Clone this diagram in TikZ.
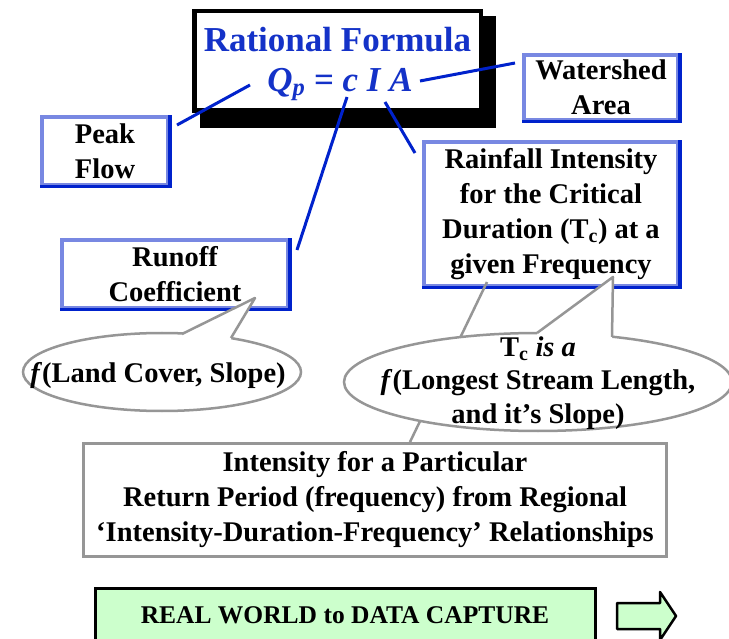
\documentclass[tikz,border=0pt]{standalone}
\usepackage{fontspec}
\setmainfont{Liberation Serif}
\usetikzlibrary{shapes.geometric}
\definecolor{bdark}{RGB}{0,34,204}
\definecolor{blight}{RGB}{120,136,226}
\definecolor{tblue}{RGB}{20,50,200}
\definecolor{bgray}{RGB}{150,150,150}
\definecolor{lgreen}{RGB}{204,255,204}
\newcommand\bodysize{\fontsize{28.5}{35}\selectfont}
\newcommand\bubsize{\fontsize{28.5}{33.5}\selectfont}
\begin{document}
\begin{tikzpicture}[x=1pt,y=-1pt,
  bbox/.style={draw=blight,line width=3.5pt,fill=white,align=center,inner sep=0pt,font=\bfseries\bodysize},
  dk/.style={draw=bdark,line width=3.5pt},
  bconn/.style={draw=bdark,line width=3pt},
  gline/.style={draw=bgray,line width=2.5pt,line join=round},
  bubble/.style={ellipse,draw=bgray,line width=2.5pt,fill=white,inner sep=0pt},
  bubtext/.style={align=center,inner sep=0pt,font=\bfseries\bubsize},
  gbox/.style={draw=bgray,line width=3pt,fill=white,inner sep=0pt,align=center,font=\bfseries\bodysize},
]
\clip (0,0) rectangle (729,639);
\fill[white] (0,0) rectangle (729,639);

% title with shadow
\node[fill=black,minimum width=296pt,minimum height=112pt,inner sep=0pt] (shadow) at (348,72) {};
\node[draw=black,line width=4.5pt,fill=white,minimum width=286.5pt,minimum height=99.5pt,inner sep=0pt] (title) at (337.5,61) {};
\node[anchor=base,text=tblue,font=\bfseries\fontsize{35}{40}\selectfont] (tname) at (337.5,52) {Rational Formula};
\node[anchor=base,text=tblue,font=\bfseries\itshape\fontsize{35}{40}\selectfont] (formula) at (340,92) {Q\textsubscript{p} {\upshape =} c I A};

% blue boxes
\node[bbox,minimum width=126pt,minimum height=68pt] (peak) at (105,151) {Peak\\Flow};
\node[bbox,minimum width=154pt,minimum height=65pt] (ws) at (601,87.5) {Watershed\\Area};
\node[bbox,minimum width=254pt,minimum height=144pt] (rf) at (551,214) {Rainfall Intensity\\for the Critical\\Duration (T\textsubscript{c}) at a\\given Frequency};
\node[bbox,minimum width=226pt,minimum height=68pt] (ro) at (175,274) {Runoff\\Coefficient};
\foreach \n in {peak,ws,rf,ro}
  \draw[dk] (\n.south west) -- (\n.south east) -- (\n.north east);

% connectors
\coordinate (qL) at (250,85);
\coordinate (aR) at (420,81);
\coordinate (cB) at (347,97);
\coordinate (iB) at (385,102);
\coordinate (pkE) at (177,125);
\coordinate (wsE) at (515,63);
\coordinate (rfE) at (415,153);
\coordinate (roE) at (297,250);
\draw[bconn] (pkE) -- (qL);
\draw[bconn] (aR) -- (wsE);
\draw[bconn] (iB) -- (rfE);
\draw[bconn] (cB) -- (roE);

% lower box
\node[gbox,minimum width=583pt,minimum height=113pt] (low) at (375,500) {Intensity for a Particular\\Return Period (frequency) from Regional\\`Intensity-Duration-Frequency' Relationships};
\coordinate (lowT) at (410,442);
\coordinate (rfP) at (487,282);
\draw[gline] (lowT) -- (rfP);

% ellipse 1
\node[bubble,minimum width=278pt,minimum height=78pt] (e1) at (162,372) {};
\coordinate (t1a) at (182,334);
\coordinate (t1p) at (255,298);
\coordinate (t1b) at (231,338);
\fill[white] (t1a) -- (t1p) -- (t1b) -- (231,343) -- (182,339) -- cycle;
\draw[gline] (t1a) -- (t1p) -- (t1b);
\node[bubtext] (e1t) at (158,375) {\textit{f}(Land Cover, Slope)};

% ellipse 2
\node[bubble,minimum width=388pt,minimum height=98pt] (e2) at (538,382) {};
\coordinate (t2a) at (537,333);
\coordinate (t2p) at (613,277);
\coordinate (t2b) at (612,337);
\fill[white] (t2a) -- (t2p) -- (t2b) -- (612,342) -- (537,338) -- cycle;
\draw[gline] (t2a) -- (t2p) -- (t2b);
\node[bubtext] (e2t) at (538,383) {T\textsubscript{c} \textit{is a}\\\textit{f}(Longest Stream Length,\\and it's Slope)};

% bottom banner
\node[draw=black,line width=3pt,fill=lgreen,minimum width=500pt,minimum height=70pt,inner sep=0pt] (rw) at (345.5,623) {};
\node[font=\bfseries\fontsize{25.5}{30}\selectfont] (rwt) at (345,615) {REAL WORLD to DATA CAPTURE};
\filldraw[fill=lgreen,draw=black,line width=2.5pt,line join=round] (617,603) -- (660,603) -- (660,592) -- (676,616) -- (660,640) -- (660,629) -- (617,629) -- cycle;
\end{tikzpicture}
\end{document}
